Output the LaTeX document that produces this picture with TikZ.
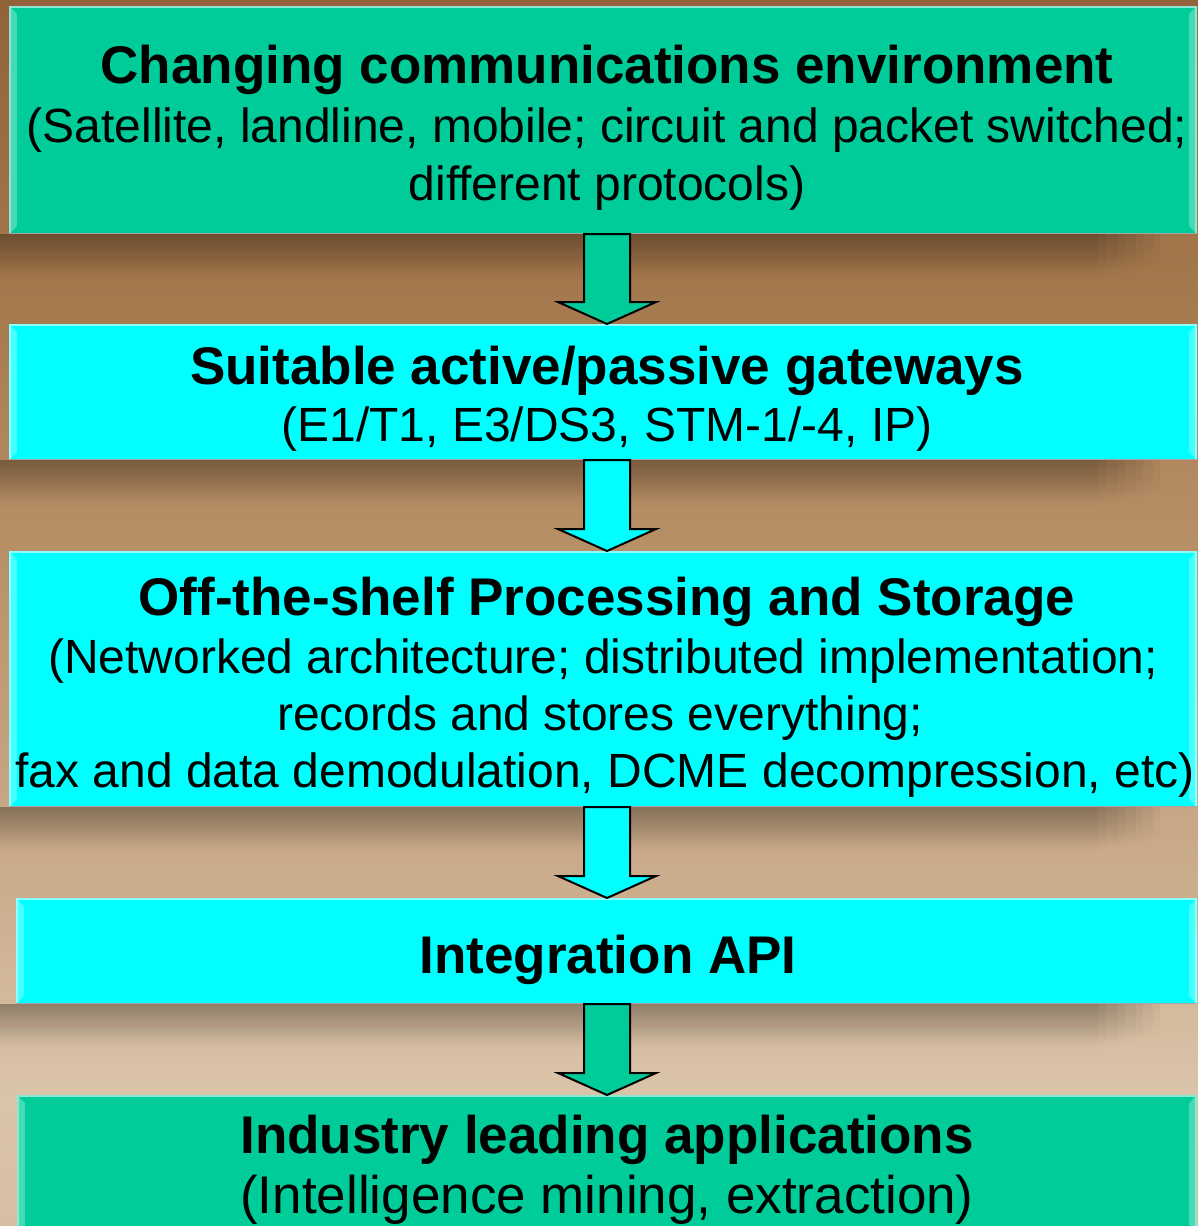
\documentclass[tikz,border=0pt]{standalone}
\usepackage{fontspec}
\setmainfont{Liberation Sans}
\usetikzlibrary{calc,fadings}
\definecolor{boxgreen}{HTML}{00CC99}
\definecolor{boxcyan}{HTML}{00FFFF}
\definecolor{bgA}{HTML}{94623A}
\definecolor{bgB}{HTML}{A67B50}
\definecolor{bgC}{HTML}{B89068}
\definecolor{bgD}{HTML}{CCAE8F}
\definecolor{bgE}{HTML}{DAC4A9}
\definecolor{bgF}{HTML}{D6BEA2}
\begin{document}
\begin{tikzpicture}[x=1pt,y=-1pt,
  box/.style={rectangle, inner sep=0pt, outer sep=0pt, draw=none, fill=#1},
  ttl/.style={anchor=base, inner sep=0pt, font=\fontsize{53}{58}\selectfont\bfseries},
  sub/.style={anchor=base, inner sep=0pt, font=\fontsize{48}{58}\selectfont},
  arrowbox/.style={draw=black, line width=2pt, line join=miter}]
\useasboundingbox (0,0) rectangle (1198,1226);
\clip (0,0) rectangle (1198,1226);
% background
\shade[top color=bgA, bottom color=bgB] (0,0) rectangle (1198,324);
\shade[top color=bgB, bottom color=bgC] (0,324) rectangle (1198,551);
\shade[top color=bgC, bottom color=bgD] (0,551) rectangle (1198,898);
\shade[top color=bgD, bottom color=bgE] (0,898) rectangle (1198,1095);
\shade[top color=bgE, bottom color=bgF] (0,1095) rectangle (1198,1226);
% soft shadows below boxes
\foreach \g in {234,460,807,1004}{
  \foreach \i in {0,...,7}{
    \fill[black, opacity=0.042, path fading=south] (0,\g) rectangle (1100+9*\i,\g+48-2*\i);
  }
}
% boxes
\node[box=boxgreen, minimum width=1188pt, minimum height=228pt] (b1) at (603,120) {};
\node[box=boxcyan, minimum width=1188pt, minimum height=136pt] (b2) at (603,392) {};
\node[box=boxcyan, minimum width=1188pt, minimum height=256pt] (b3) at (603,679) {};
\node[box=boxcyan, minimum width=1181pt, minimum height=106pt] (b4) at (606.5,951) {};
\node[box=boxgreen, minimum width=1180pt, minimum height=160pt] (b5) at (607,1175) {};
% bevels
\foreach \n/\c in {b1/boxgreen, b2/boxcyan, b3/boxcyan, b4/boxcyan, b5/boxgreen}{
  \fill[\c!72!white] (\n.north west) -- ($(\n.north west)+(8,8)$) -- ($(\n.south west)+(8,-8)$) -- (\n.south west) -- cycle;
  \fill[\c!72!white] (\n.north east) -- ($(\n.north east)+(-8,8)$) -- ($(\n.south east)+(-8,-8)$) -- (\n.south east) -- cycle;
  \fill[\c] ($(\n.north west)+(8,8)$) rectangle ($(\n.south east)+(-8,-8)$);
  \draw[\c!45!white, line width=1.5pt] ($(\n.south west)+(1,0)$) -- ($(\n.north west)+(1,1)$) -- ($(\n.north east)+(-1,1)$) -- ($(\n.south east)+(-1,0)$);
  \draw[black!35, line width=1pt] ($(\n.south west)+(0,-0.5)$) -- ($(\n.south east)+(0,-0.5)$);
}
% texts
\node[ttl] (t1a) at (607,83) {Changing communications environment};
\node[sub] (t1b) at (607,142) {(Satellite, landline, mobile; circuit and packet switched;};
\node[sub] (t1c) at (607,200) {different protocols)};
\node[ttl] (t2a) at (607,384) {Suitable active/passive gateways};
\node[sub] (t2b) at (607,441) {(E1/T1, E3/DS3, STM-1/-4, IP)};
\node[ttl] (t3a) at (607,615) {Off-the-shelf Processing and Storage};
\node[sub] (t3b) at (603,673) {(Networked architecture; distributed implementation;};
\node[sub] (t3c) at (600,730) {records and stores everything;};
\node[sub] (t3d) at (605,787) {fax and data demodulation, DCME decompression, etc)};
\node[ttl] (t4) at (608,973) {Integration API};
\node[ttl] (t5a) at (607,1153) {Industry leading applications};
\node[sub, font=\fontsize{53}{58}\selectfont] (t5b) at (607,1213) {(Intelligence mining, extraction)};
% arrows
\coordinate (ax) at (607,0);
\foreach \a/\b/\c in {b1/b2/boxgreen, b2/b3/boxcyan, b3/b4/boxcyan, b4/b5/boxgreen}{
  \path (\a.south -| ax) coordinate (top) (\b.north -| ax) coordinate (tip);
  \draw[arrowbox, fill=\c] ($(top)+(-23,0)$) -- ($(tip)+(-23,-22)$) -- ($(tip)+(-49,-22)$) -- (tip)
     -- ($(tip)+(49,-22)$) -- ($(tip)+(23,-22)$) -- ($(top)+(23,0)$) -- cycle;
}
\end{tikzpicture}
\end{document}
